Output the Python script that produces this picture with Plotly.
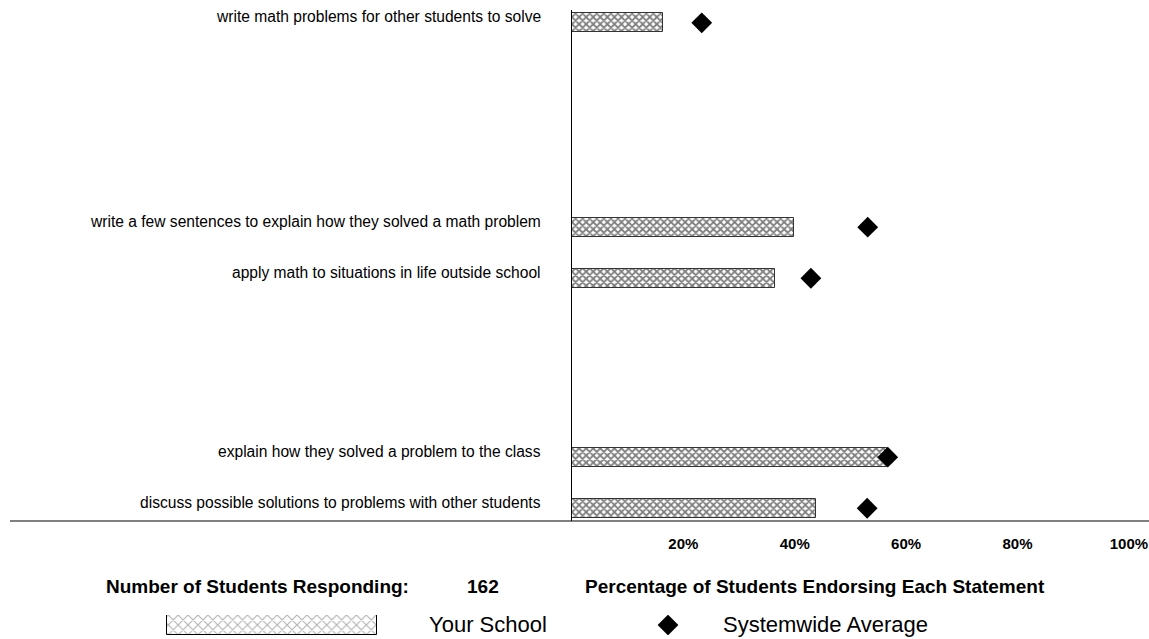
import plotly.graph_objects as go

W, H = 1149, 639

# rows from top to bottom; blank rows are empty slots in the original chart
statements = [
    "write math problems for other students to solve",
    " ", "  ", "   ", "    ", "     ", "      ", "       ",
    "write a few sentences to explain how they solved a math problem",
    "        ",
    "apply math to situations in life outside school",
    "         ", "          ", "           ", "            ",
    "             ", "              ",
    "explain how they solved a problem to the class",
    "               ",
    "discuss possible solutions to problems with other students",
]
your_school = [16.3, None, None, None, None, None, None, None,
               39.9, None, 36.5, None, None, None, None, None, None,
               56.5, None, 43.8]
systemwide = [23.3, None, None, None, None, None, None, None,
              53.1, None, 42.9, None, None, None, None, None, None,
              56.7, None, 53.0]

tick_vals = [20, 40, 60, 80, 100]
tick_text = ["20%", "40%", "60%", "80%", "100%"]
n_students = "162"

FONT = "Arial, Liberation Sans, sans-serif"


def px_x(p):
    return p / W


def px_y(p):
    return 1 - p / H


fig = go.Figure()

fig.add_trace(go.Bar(
    y=statements, x=your_school, orientation="h", width=0.74,
    marker=dict(color="white", line=dict(color="#333333", width=1),
                pattern=dict(shape="x", fgcolor="black", bgcolor="white",
                             size=5, solidity=0.6)),
    showlegend=False, hoverinfo="x+y",
))
fig.add_trace(go.Scatter(
    y=statements, x=systemwide, mode="markers",
    marker=dict(symbol="diamond", size=16, color="black"),
    showlegend=False, hoverinfo="x+y",
))

# statement labels
for s in statements:
    if s.strip():
        fig.add_annotation(x=0, y=s, xref="x", yref="y", text=s,
                           xanchor="right", yanchor="middle",
                           xshift=-29, yshift=6, showarrow=False,
                           font=dict(family=FONT, size=15.6, color="black"))

# legend key (drawn on a helper axis in pixel units)
fig.add_trace(go.Bar(
    y=[0], x=[210], base=[167], orientation="h", width=1,
    xaxis="x2", yaxis="y2",
    marker=dict(color="white", line=dict(color="black", width=1),
                pattern=dict(shape="x", fgcolor="#666666", bgcolor="white",
                             size=7, solidity=0.3)),
    showlegend=False, hoverinfo="skip",
))
fig.add_trace(go.Scatter(
    y=[0], x=[668], mode="markers", xaxis="x2", yaxis="y2",
    marker=dict(symbol="diamond", size=16, color="black"),
    showlegend=False, hoverinfo="skip",
))

fig.add_annotation(x=px_x(427), y=px_y(624), xref="paper", yref="paper",
                   text="Your School", xanchor="left", yanchor="middle",
                   showarrow=False, font=dict(family=FONT, size=22, color="black"))
fig.add_annotation(x=px_x(721), y=px_y(624), xref="paper", yref="paper",
                   text="Systemwide Average", xanchor="left", yanchor="middle",
                   showarrow=False, font=dict(family=FONT, size=22, color="black"))

fig.add_annotation(x=px_x(411), y=px_y(586), xref="paper", yref="paper",
                   text="<b>Number of Students Responding:</b>", xanchor="right",
                   yanchor="middle", showarrow=False,
                   font=dict(family=FONT, size=19, color="black"))
fig.add_annotation(x=px_x(483), y=px_y(586), xref="paper", yref="paper",
                   text="<b>" + n_students + "</b>", xanchor="center",
                   yanchor="middle", showarrow=False,
                   font=dict(family=FONT, size=19, color="black"))
fig.add_annotation(x=px_x(583), y=px_y(586), xref="paper", yref="paper",
                   text="<b>Percentage of Students Endorsing Each Statement</b>",
                   xanchor="left", yanchor="middle", showarrow=False,
                   font=dict(family=FONT, size=19, color="black"))

# long baseline under the plot
fig.add_shape(type="line", xref="paper", yref="paper",
              x0=px_x(10), x1=1, y0=px_y(521), y1=px_y(521),
              line=dict(color="black", width=1))

n_rows = len(statements)
fig.update_layout(
    width=W, height=H,
    margin=dict(l=0, r=0, t=0, b=0, autoexpand=False),
    paper_bgcolor="white", plot_bgcolor="white",
    bargap=0,
    xaxis=dict(domain=[px_x(572), px_x(1130)], range=[0, 100.2],
               tickvals=tick_vals, ticktext=tick_text,
               tickfont=dict(family=FONT, size=15, color="black", weight="bold"),
               showgrid=False, zeroline=False, showline=False, automargin=False,
               ticks="", ticklabelstandoff=12, fixedrange=True),
    yaxis=dict(domain=[px_y(521), px_y(10)], categoryorder="array",
               categoryarray=statements, range=[n_rows - 0.5, -0.5],
               showticklabels=False, showgrid=False, zeroline=False,
               showline=True, linecolor="black", linewidth=1, ticks="",
               automargin=False, fixedrange=True),
    xaxis2=dict(domain=[0, 1], range=[0, W], visible=False, fixedrange=True),
    yaxis2=dict(domain=[px_y(635), px_y(615)], range=[-0.5, 0.5],
                visible=False, fixedrange=True),
)

fig.write_html(
    "out.html", config={"displayModeBar": False},
    post_script=("document.body.style.margin='0px';"
                 "document.body.style.overflow='hidden';"
                 "document.documentElement.style.overflow='hidden';"),
)
